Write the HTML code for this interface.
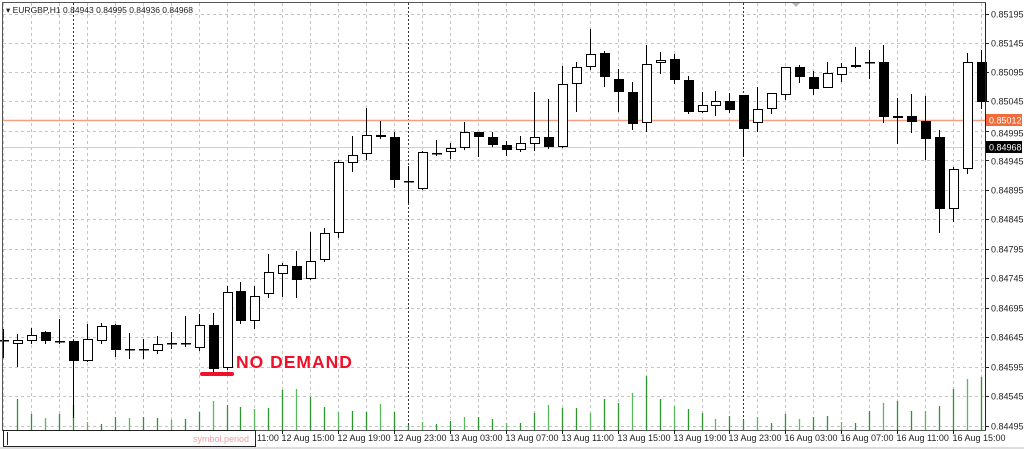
<!DOCTYPE html>
<html><head><meta charset="utf-8"><style>
html,body{margin:0;padding:0;background:#fff;width:1024px;height:449px;overflow:hidden}
svg{display:block;font-family:"Liberation Sans",sans-serif}
</style></head><body>
<svg id="s" width="1024" height="449" xmlns="http://www.w3.org/2000/svg">
<rect x="0" y="0" width="1024" height="449" fill="#fff"/>
<g id="grid"></g>
<g id="vol"></g>
<line x1="3" y1="120.5" x2="985" y2="120.5" stroke="#f4a080" stroke-width="1.5"/>
<line x1="3" y1="147.5" x2="985" y2="147.5" stroke="#cfcfcf" stroke-width="1"/>
<g id="c"></g>
<rect x="200" y="372" width="34" height="4" rx="2" fill="#f0102a"/>
<text x="236" y="368" font-size="17.5" font-weight="bold" fill="#f0102a" letter-spacing="1">NO DEMAND</text>
<rect x="2.5" y="2.5" width="983" height="428" fill="none" stroke="#555" stroke-width="1"/>
<polygon points="792,3 800,3 796,7" fill="#bbb"/>
<text x="6" y="13" font-size="8.5" fill="#222">▾ EURGBP,H1  0.84943 0.84995 0.84936 0.84968</text>
<g id="ax" font-size="9" fill="#222"></g>
<rect x="986" y="114" width="36" height="12" fill="#f26b3a"/>
<text x="989" y="123.5" font-size="9" fill="#fff">0.85012</text>
<rect x="986" y="141" width="36" height="12" fill="#000"/>
<text x="989" y="150.5" font-size="9" fill="#fff">0.84968</text>
<g id="tx" font-size="9" fill="#222"></g>
<rect x="3.5" y="430.5" width="252" height="16" fill="#fff" stroke="#222"/>
<line x1="7.5" y1="432" x2="7.5" y2="445" stroke="#222"/>
<text x="249" y="442" font-size="9" fill="#f4a0a0" text-anchor="end">symbol.period</text>
<rect x="0" y="447" width="1024" height="2" fill="#ddd"/>
</svg>
<script>
var NS="http://www.w3.org/2000/svg";
function el(p,t,a,txt){var e=document.createElementNS(NS,t);for(var k in a)e.setAttribute(k,a[k]);if(txt)e.textContent=txt;document.getElementById(p).appendChild(e);return e;}
var ys=[14,43,72,101,131,160,190,219,249,278,308,337,367,396,426];
var pr=["0.85195","0.85145","0.85095","0.85045","0.84995","0.84945","0.84895","0.84845","0.84795","0.84745","0.84695","0.84645","0.84595","0.84545","0.84495"];
ys.forEach(function(y,i){el("grid","line",{x1:3,y1:y+.5,x2:985,y2:y+.5,stroke:"#c4c4c4","stroke-dasharray":"3,3"});
el("ax","line",{x1:985,y1:y+.5,x2:989,y2:y+.5,stroke:"#222"});
el("ax","text",{x:991,y:y+3.5+(i==4?2:(i==5?1:0))},pr[i]);});
function X(i){return 3+13.97*i;}
for(var i=0;i<=70;i+=2){var x=Math.round(X(i))+.5;el("grid","line",{x1:x,y1:3,x2:x,y2:430,stroke:"#c4c4c4","stroke-dasharray":"3,3"});}
[5,29,53].forEach(function(i){var x=Math.round(X(i))+.5;el("grid","line",{x1:x,y1:3,x2:x,y2:430,stroke:"#333","stroke-dasharray":"2,2"});});
var D=[[340,344,329,358,2],[340,344,334,367,1],[335,341,328,344,1],[332,341,331,344,0],[341,342,319,344,2],
[341,361,340,418,0],[339,361,324,362,1],[326,341,323,344,1],[325,350,324,357,0],[349,349,333,359,2],
[349,349,339,359,2],[344,351,336,354,1],[343,343,332,349,2],[343,343,316,347,2],[325,348,314,351,1],
[325,369,313,372,0],[292,368,286,370,1],[291,321,282,324,0],[296,321,286,329,1],[272,294,254,298,1],
[265,274,263,297,1],[266,280,251,298,0],[261,279,232,280,1],[233,260,228,262,1],[162,233,160,238,1],
[155,163,136,172,1],[135,154,108,160,1],[135,137,121,139,0],[137,180,132,188,0],[181,181,166,203,2],
[152,189,151,190,1],[153,153,140,156,2],[148,152,143,159,1],[132,148,122,150,1],[132,137,132,157,0],
[137,145,132,147,0],[145,150,141,156,0],[143,150,136,152,1],[137,144,92,151,1],[137,147,99,149,0],
[84,147,66,148,1],[67,84,62,112,1],[54,67,29,70,1],[53,77,51,87,0],[79,92,69,112,0],
[92,124,82,130,0],[64,123,45,132,1],[60,63,52,74,1],[59,80,54,84,0],[80,112,76,114,0],
[105,112,92,113,1],[101,106,91,116,1],[101,110,93,113,0],[95,129,95,157,0],[109,123,87,132,1],
[93,109,93,114,1],[67,95,67,100,1],[67,77,65,83,0],[77,89,71,95,0],[73,88,62,88,1],
[67,75,63,82,1],[65,67,47,68,0],[62,62,50,79,2],[62,117,45,123,0],[116,118,98,144,1],
[116,122,94,133,0],[121,139,96,160,0],[137,209,130,233,0],[169,209,167,222,1],[62,169,53,174,1],[62,102,50,109,0]];
var V=[409,399,414,418,414,405,422,424,417,418,417,418,420,419,412,401,405,407,409,408,390,389,397,407,412,411,412,404,412,425,422,424,421,417,417,419,423,423,413,405,408,408,413,399,403,393,376,399,406,409,413,419,416,420,417,423,414,419,417,416,422,423,411,403,401,411,411,406,389,379,377];
V.forEach(function(v,i){var x=Math.round(X(i))+.5;if(x<4)return;el("vol","line",{x1:x,y1:v,x2:x,y2:430,stroke:(i%3==0?"#5cb85c":"#2e962e"),"stroke-width":1.3});});
D.forEach(function(d,i){var x=Math.round(X(i));var cx=x+.5;
el("c","line",{x1:cx,y1:d[2],x2:cx,y2:d[3],stroke:"#000"});
var t=d[0],b=d[1];
if(d[4]==2||b-t<1){el("c","rect",{x:x-4,y:t,width:10,height:1.5,fill:"#000"});}
else if(d[4]==1){el("c","rect",{x:x-4+.5,y:t+.5,width:9,height:b-t-1,fill:"#fff",stroke:"#000"});}
else{el("c","rect",{x:x-4,y:t,width:10,height:b-t,fill:"#000"});}});
var L=[[16,"12 Aug 11:00"],[20,"12 Aug 15:00"],[24,"12 Aug 19:00"],[28,"12 Aug 23:00"],[32,"13 Aug 03:00"],[36,"13 Aug 07:00"],[40,"13 Aug 11:00"],[44,"13 Aug 15:00"],[48,"13 Aug 19:00"],[52,"13 Aug 23:00"],[56,"16 Aug 03:00"],[60,"16 Aug 07:00"],[64,"16 Aug 11:00"],[68,"16 Aug 15:00"]];
L.forEach(function(l){var x=Math.round(X(l[0]))+.5;el("tx","line",{x1:x,y1:430,x2:x,y2:434,stroke:"#222"});el("tx","text",{x:x-1,y:441},l[1]);});
el("ax","line",{x1:985.5,y1:3,x2:985.5,y2:430,stroke:"#222"});
var s=document.getElementById("s");
s.appendChild(document.querySelector("rect[x='3.5']"));
s.appendChild(document.querySelector("line[x1='7.5']"));
s.appendChild(document.querySelector("text[text-anchor='end']"));
</script>
</body></html>
